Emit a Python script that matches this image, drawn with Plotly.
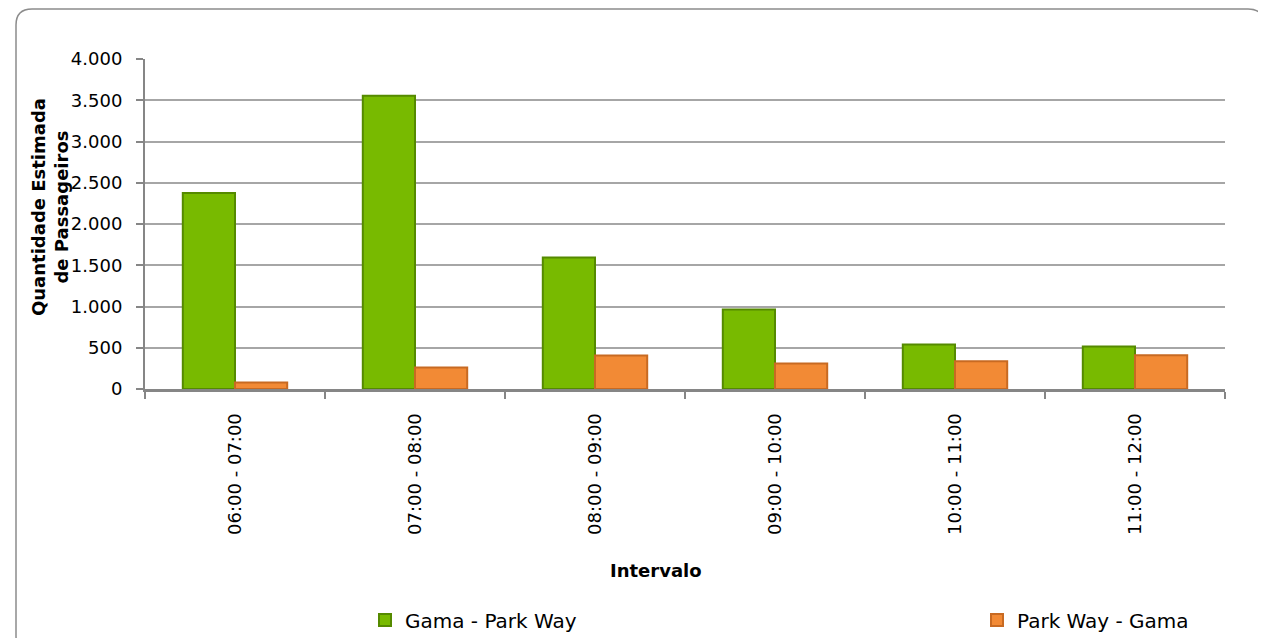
import plotly.graph_objects as go

categories = ["06:00 - 07:00", "07:00 - 08:00", "08:00 - 09:00", "09:00 - 10:00", "10:00 - 11:00", "11:00 - 12:00"]
gama_park = [2375, 3555, 1595, 965, 540, 515]
park_gama = [80, 262, 405, 310, 335, 408]
y_ticks = [0, 500, 1000, 1500, 2000, 2500, 3000, 3500, 4000]

# screen geometry (page body has an 8px margin)
OFF = 8
W, H = 1266 - OFF, 638 - OFF
X0, X1, Y0, Y1 = 145, 1225, 59, 389          # plot area in screen px
L, R, T, B = X0 - OFF, W - (X1 - OFF), Y0 - OFF, H - (Y1 - OFF)
PW, PH = X1 - X0, Y1 - Y0

def px(x):
    return (x - X0) / PW

def py(y):
    return (Y1 - y) / PH

FONT = "'DejaVu Sans', sans-serif"

fig = go.Figure()
fig.add_trace(go.Bar(
    x=categories, y=gama_park, name="Gama - Park Way", legend="legend",
    marker=dict(color="#78ba00", line=dict(color="#558a00", width=2)),
))
fig.add_trace(go.Bar(
    x=categories, y=park_gama, name="Park Way - Gama", legend="legend2",
    marker=dict(color="#f28a35", line=dict(color="#c86a22", width=2)),
))

def rounded(x0, y0, x1, y1, r):
    return (f"M {px(x0+r)} {py(y0)} L {px(x1-r)} {py(y0)} Q {px(x1)} {py(y0)} {px(x1)} {py(y0+r)} "
            f"L {px(x1)} {py(y1-r)} Q {px(x1)} {py(y1)} {px(x1-r)} {py(y1)} "
            f"L {px(x0+r)} {py(y1)} Q {px(x0)} {py(y1)} {px(x0)} {py(y1-r)} "
            f"L {px(x0)} {py(y0+r)} Q {px(x0)} {py(y0)} {px(x0+r)} {py(y0)} Z")

shapes = [
    dict(type="path", xref="paper", yref="paper", path=rounded(16, 9, 1264, 652, 16),
         line=dict(color="#8c8c8c", width=1.5), fillcolor="rgba(0,0,0,0)", layer="below"),
]

legend_common = dict(orientation="h", yanchor="middle", xanchor="left",
                     font=dict(family=FONT, size=20, color="#000000"),
                     bgcolor="rgba(0,0,0,0)", itemwidth=30, tracegroupgap=0)

fig.update_layout(
    width=W, height=H,
    margin=dict(l=L, r=R, t=T, b=B, autoexpand=False),
    paper_bgcolor="white", plot_bgcolor="white",
    separators=",.",
    barmode="group", bargap=0.42, bargroupgap=0,
    font=dict(family=FONT, size=16, color="#000000"),
    showlegend=True,
    legend=dict(x=px(365), y=py(620), **legend_common),
    legend2=dict(x=px(977), y=py(620), **legend_common),
    shapes=shapes,
    annotations=[
        dict(text="<b>Quantidade Estimada<br>de Passageiros</b>", textangle=-90,
             x=px(50), y=py(207), xref="paper", yref="paper", showarrow=False,
             xanchor="center", yanchor="middle",
             font=dict(family=FONT, size=18), align="center"),
        dict(text="<b>Intervalo</b>", x=px(656), y=py(570), xref="paper", yref="paper",
             xanchor="center", yanchor="middle",
             showarrow=False, font=dict(family=FONT, size=18)),
    ],
)
fig.update_xaxes(
    tickangle=-90, showline=True, linecolor="#868686", linewidth=3,
    ticks="outside", tickson="boundaries", ticklen=7, tickcolor="#868686", tickwidth=1.5,
    tickfont=dict(family=FONT, size=18), showgrid=False, ticklabelstandoff=14,
)
fig.update_yaxes(
    range=[0, 4000], tickvals=y_ticks, tickformat=",d",
    showline=True, linecolor="#868686", linewidth=2,
    ticks="outside", ticklen=7, tickcolor="#868686", tickwidth=1.5,
    showgrid=True, gridcolor="#a6a6a6", gridwidth=2,
    zeroline=False, tickfont=dict(family=FONT, size=18), ticklabelstandoff=10,
)
fig.write_html("out.html")
